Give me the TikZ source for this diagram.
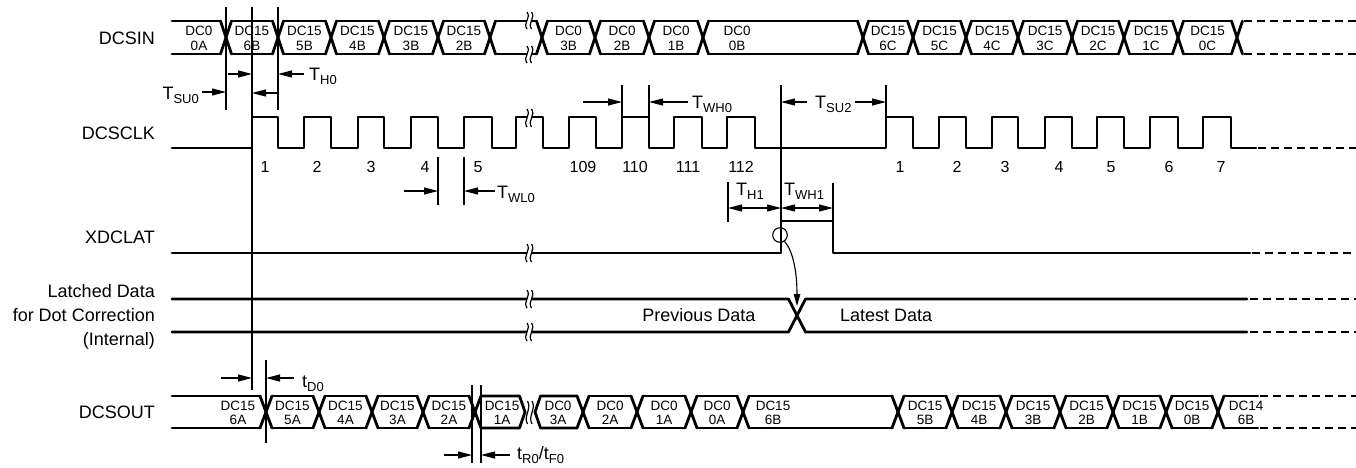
\documentclass[tikz,border=0pt]{standalone}
\usepackage{fontspec}
\setmainfont{Liberation Sans}
\usetikzlibrary{arrows.meta}
\newcommand\Tlab[2]{#1{\fontsize{13}{13}\selectfont\raisebox{-4.5pt}{#2}}}
\newcommand\wig[3]{\draw[brk] ({#1},{#2}) .. controls ({#1+4.5},{#2+(#3-#2)*0.35}) and ({#1-4.5},{#2+(#3-#2)*0.65}) .. ({#1},{#3});}
\newcommand\brkpair[3]{\wig{#1}{#2}{#3}\wig{#1+4.5}{#2}{#3}}
\begin{document}
\begin{tikzpicture}[x=1pt,y=-1pt,
  sig/.style={line width=2.8pt, line cap=round, line join=round},
  dsig/.style={line width=2.8pt, dash pattern=on 8pt off 5pt},
  tline/.style={line width=1.1pt},
  brk/.style={line width=1.2pt},
  arr/.style={-{Triangle[length=14pt,width=7pt]}},
  darr/.style={{Triangle[length=14pt,width=7pt]}-{Triangle[length=14pt,width=7pt]}},
  lab/.style={font=\fontsize{18}{18}\selectfont, inner sep=0pt},
  bus/.style={font=\fontsize{13.5}{14.5}\selectfont, align=center, inner sep=0pt},
  num/.style={font=\fontsize{16}{16}\selectfont, inner sep=0pt, anchor=base},
]
\useasboundingbox (0,0) rectangle (1356,467);

% ---------- signal names
\node[lab, anchor=base east] (nIn) at (155,44) {DCSIN};
\node[lab, anchor=base east] (nClk) at (155,139) {DCSCLK};
\node[lab, anchor=base east] (nLat) at (155,243) {XDCLAT};
\node[lab, anchor=base east] (nLd1) at (155,297) {Latched Data};
\node[lab, anchor=base east] (nLd2) at (155,321) {for Dot Correction};
\node[lab, anchor=base east] (nLd3) at (155,345) {(Internal)};
\node[lab, anchor=base east] (nOut) at (155,418) {DCSOUT};

% ---------- DCSIN bus
\foreach \c in {226,278,331,384,438,490,542,595,649,703,863,913,966,1018,1072,1124,1178,1237}{
  \draw[sig] ({\c-5.5},21) -- ({\c+5.5},54);
  \draw[sig] ({\c-5.5},54) -- ({\c+5.5},21);
}
\draw[sig] (172,21) -- (220.5,21);
\draw[sig] (172,54) -- (220.5,54);
\foreach \a/\b in {226/278,278/331,331/384,384/438,438/490,490/542,542/595,595/649,649/703,703/863,863/913,913/966,966/1018,1018/1072,1072/1124,1124/1178,1178/1237}{
  \draw[sig] ({\a+5.5},21) -- ({\b-5.5},21);
  \draw[sig] ({\a+5.5},54) -- ({\b-5.5},54);
}
\draw[dsig] (1244,21) -- (1356,21);
\draw[dsig] (1244,54) -- (1356,54);
\fill[white] (526.5,15) rectangle (532,27);
\fill[white] (526.5,48) rectangle (532,60);
\brkpair{527}{12}{29}
\brkpair{527}{46}{63}
\foreach \x/\pa/\pb [count=\i] in {199/DC0/0A,252/DC15/6B,304.5/DC15/5B,357.5/DC15/4B,411/DC15/3B,464/DC15/2B,568.5/DC0/3B,622/DC0/2B,676/DC0/1B,737/DC0/0B,888/DC15/6C,939.5/DC15/5C,992/DC15/4C,1045/DC15/3C,1098/DC15/2C,1151/DC15/1C,1207.5/DC15/0C}
  \node[bus] (in\i) at (\x,38.5) {\pa\\\pb};

% ---------- DCSCLK
\draw[sig] (172,148) foreach \r/\f in {252/278,304/331,358/384,411/438,464/492,516/543,569/596,622/649,674/702,727/755,886/913,939/966,992/1018,1045/1072,1097/1124,1150/1178,1203/1231} { -- (\r,148) -- (\r,117) -- (\f,117) -- (\f,148) } -- (1256,148);
\draw[dsig] (1258,148) -- (1356,148);
\fill[white] (526.5,111) rectangle (532,123);
\brkpair{527}{109}{127}
\foreach \x/\n [count=\i] in {265/1,317/2,371/3,425/4,478/5,583/109,635/110,688/111,741/112,900/1,957/2,1005/3,1059/4,1111/5,1169/6,1221/7}
  \node[num] (num\i) at (\x,172) {\n};

% ---------- XDCLAT
\draw[sig] (172,253) -- (781,253) -- (781,221) -- (833,221) -- (833,253) -- (1250,253);
\draw[dsig] (1252,253) -- (1356,253);
\fill[white] (526.5,247) rectangle (532,259);
\brkpair{527}{244}{262}

% ---------- Latched data
\draw[sig] (172,299) -- (788.5,299) -- (805.5,332) -- (1247,332);
\draw[sig] (172,332) -- (788.5,332) -- (805.5,299) -- (1247,299);
\draw[dsig] (1250,299) -- (1356,299);
\draw[dsig] (1250,332) -- (1356,332);
\fill[white] (526.5,293) rectangle (532,305);
\fill[white] (526.5,326) rectangle (532,338);
\brkpair{527}{290}{308}
\brkpair{527}{323}{341}
\node[lab, anchor=base] (prev) at (699,321) {Previous Data};
\node[lab, anchor=base west] (late) at (840,321) {Latest Data};

% ---------- DCSOUT bus
\foreach \c in {266,319,372,423,475,583,637,691,743,898,952,1006,1060,1113,1166,1218}{
  \draw[sig] ({\c-6},396) -- ({\c+6},428);
  \draw[sig] ({\c-6},428) -- ({\c+6},396);
}
\draw[sig] (172,396) -- (260,396);
\draw[sig] (172,428) -- (260,428);
\foreach \a/\b in {266/319,319/372,372/423,423/475,583/637,637/691,691/743,743/898,898/952,952/1006,1006/1060,1060/1113,1113/1166,1166/1218}{
  \draw[sig] ({\a+6},396) -- ({\b-6},396);
  \draw[sig] ({\a+6},428) -- ({\b-6},428);
}
\draw[sig] (481,396) -- (519.5,396) -- (525,412) -- (519.5,428) -- (481,428);
\draw[sig] (577,396) -- (540.5,396) -- (535,412) -- (540.5,428) -- (577,428);
\brkpair{527.5}{401}{424}
\draw[sig] (1224,396) -- (1258,396);
\draw[sig] (1224,428) -- (1258,428);
\draw[dsig] (1260,396) -- (1356,396);
\draw[dsig] (1260,428) -- (1356,428);
\foreach \x/\pa/\pb [count=\i] in {238/DC15/6A,292.5/DC15/5A,345.5/DC15/4A,397.5/DC15/3A,449/DC15/2A,502/DC15/1A,558/DC0/3A,610/DC0/2A,664/DC0/1A,717/DC0/0A,773/DC15/6B,925/DC15/5B,979/DC15/4B,1033/DC15/3B,1086.5/DC15/2B,1139.5/DC15/1B,1192/DC15/0B,1246/DC14/6B}
  \node[bus] (out\i) at (\x,413) {\pa\\\pb};

% ---------- guide lines
\draw[tline] (226,7) -- (226,110);
\draw[tline] (252,7) -- (252,390);
\draw[tline] (278,7) -- (278,110);
\draw[tline] (438,157) -- (438,205);
\draw[tline] (464,157) -- (464,205);
\draw[tline] (622,85) -- (622,117);
\draw[tline] (649,85) -- (649,117);
\draw[tline] (781,85) -- (781,221);
\draw[tline] (886,85) -- (886,117);
\draw[tline] (728,182) -- (728,222);
\draw[tline] (833,183) -- (833,221);
\draw[tline] (266,360) -- (266,443);
\draw[tline] (472,385) -- (472,463);
\draw[tline] (481,385) -- (481,463);

% ---------- timing arrows and labels
\coordinate (su0a) at (202,92);   \coordinate (su0b) at (226,92);
\draw[tline,arr] (su0a) -- (su0b);
\node[lab, anchor=base east] (tsu0) at (199,99) {\Tlab{T}{SU0}};
\coordinate (h0a) at (228,74);    \coordinate (h0b) at (252,74);
\draw[tline,arr] (h0a) -- (h0b);
\coordinate (h0c) at (277,93);    \coordinate (h0d) at (252,93);
\draw[tline,arr] (h0c) -- (h0d);
\coordinate (h0e) at (304,74);    \coordinate (h0f) at (278,74);
\draw[tline,arr] (h0e) -- (h0f);
\node[lab, anchor=base west] (th0) at (309,80) {\Tlab{T}{H0}};

\coordinate (wl0a) at (404,191);  \coordinate (wl0b) at (438,191);
\draw[tline,arr] (wl0a) -- (wl0b);
\coordinate (wl0c) at (495,191);  \coordinate (wl0d) at (464,191);
\draw[tline,arr] (wl0c) -- (wl0d);
\node[lab, anchor=base west] (twl0) at (497,198) {\Tlab{T}{WL0}};

\coordinate (wh0a) at (583,102);  \coordinate (wh0b) at (622,102);
\draw[tline,arr] (wh0a) -- (wh0b);
\coordinate (wh0c) at (688,102);  \coordinate (wh0d) at (649,102);
\draw[tline,arr] (wh0c) -- (wh0d);
\node[lab, anchor=base west] (twh0) at (692,108) {\Tlab{T}{WH0}};

\coordinate (su2a) at (807,102);  \coordinate (su2b) at (781,102);
\draw[tline,arr] (su2a) -- (su2b);
\node[lab, anchor=base west] (tsu2) at (815,108) {\Tlab{T}{SU2}};
\coordinate (su2c) at (855,102);  \coordinate (su2d) at (886,102);
\draw[tline,arr] (su2c) -- (su2d);

\coordinate (h1a) at (728,208);   \coordinate (h1b) at (781,208);
\draw[tline,darr] (h1a) -- (h1b);
\node[lab, anchor=base west] (th1) at (736,195) {\Tlab{T}{H1}};
\coordinate (wh1b) at (833,208);
\draw[tline,darr] (h1b) -- (wh1b);
\node[lab, anchor=base west] (twh1) at (784,195) {\Tlab{T}{WH1}};

\coordinate (d0a) at (221,378);   \coordinate (d0b) at (252,378);
\draw[tline,arr] (d0a) -- (d0b);
\coordinate (d0c) at (294,378);   \coordinate (d0d) at (266,378);
\draw[tline,arr] (d0c) -- (d0d);
\node[lab, anchor=base west] (td0) at (302,387) {\Tlab{t}{D0}};

\coordinate (r0a) at (444,455);   \coordinate (r0b) at (472,455);
\draw[tline,arr] (r0a) -- (r0b);
\coordinate (r0c) at (510,455);   \coordinate (r0d) at (481,455);
\draw[tline,arr] (r0c) -- (r0d);
\node[lab, anchor=base west] (tr0) at (517,459) {\Tlab{t}{R0}/\Tlab{t}{F0}};

% ---------- latch event
\node[circle, draw, tline, minimum size=14.6pt, inner sep=0pt] (latch) at (780,235) {};
\coordinate (xl) at (797,306);
\draw[tline, -{Triangle[length=12pt,width=6.5pt]}] (latch.-55) .. controls (794,252) and (797,275) .. (xl);
\end{tikzpicture}
\end{document}
